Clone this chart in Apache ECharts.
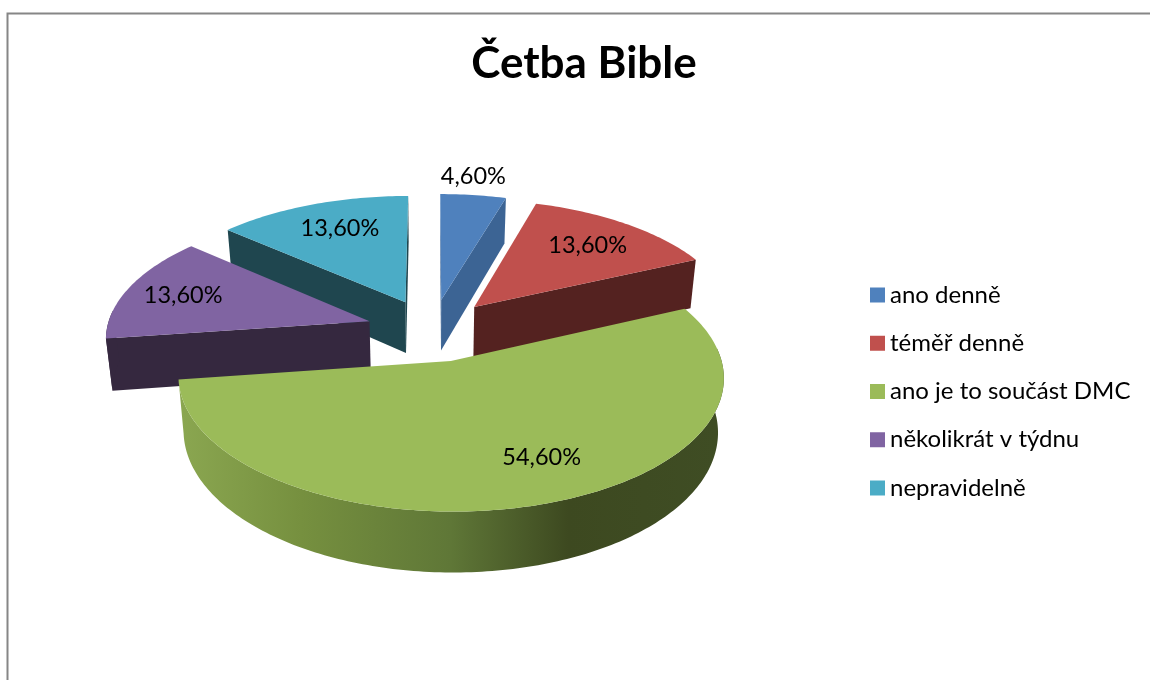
<!DOCTYPE html>
<html>
<head>
<meta charset="utf-8">
<title>Četba Bible</title>
<style>
  html, body { margin: 0; padding: 0; background: #fff; }
  #chart { width: 1150px; height: 680px; }
</style>
<script src="https://cdn.jsdelivr.net/npm/echarts@6/dist/echarts.min.js"></script>
</head>
<body>
<div id="chart"></div>
<script>
  const categories = ['ano denně', 'téměř denně', 'ano je to součást DMC', 'několikrát v týdnu', 'nepravidelně']
  const values = [4.6, 13.6, 54.6, 13.6, 13.6]

  const topColors = ['#4f81bd', '#c0504d', '#9bbb59', '#8064a2', '#4bacc6']
  const wallColors = ['#3c6494', '#542220', '#5f7737', '#35283f', '#1f464f']
  // back slices first, the big green one last
  const drawOrder = [3, 4, 5, 2, 1]
  // how far along the slice's middle each label sits, 1 = rim
  const labelRadius = [1.2, 0.73, 0.7, 0.76, 0.74]
  const labelShift = [-0.025, 0, 0.107, -0.01, 0.023]

  // fake 3D projection of the pie plane, fitted by eye
  const originX = 432
  const originY = 330
  const radiusX = 263
  const radiusY = 125
  const perspective = 0.118
  const explode = 0.25
  const depth = 52
  const bottomScale = 0.98

  const total = values.reduce((a, b) => a + b, 0)
  const rad = (deg) => (deg * Math.PI) / 180

  const project = (px, py, lower) => {
    const f = 1 / (1 + perspective * py)
    const x = radiusX * px * f
    const y = originY - radiusY * py * f
    return lower ? [originX + x * bottomScale, y + depth * f] : [originX + x, y]
  }

  const renderSlice = (index) => (params, api) => {
    const value = api.value(0)
    const before = values.slice(0, index).reduce((a, b) => a + b, 0)
    const start = (before / total) * 360
    const end = start + (value / total) * 360
    const mid = (start + end) / 2
    const apexX = explode * Math.sin(rad(mid))
    const apexY = explode * Math.cos(rad(mid))
    const viewY = -1 / perspective
    const rim = (deg) => [apexX + Math.sin(rad(deg)), apexY + Math.cos(rad(deg))]

    const arc = []
    for (let deg = start; deg < end; deg += 1) arc.push(deg)
    arc.push(end)

    const wallStyle = { fill: wallColors[index] }
    if (index === 2) {
      wallStyle.fill = new echarts.graphic.LinearGradient(183, 0, 718, 0, [
        { offset: 0, color: '#8aa650' },
        { offset: 0.22, color: '#76903f' },
        { offset: 0.5, color: '#5f7737' },
        { offset: 0.72, color: '#3d4920' },
        { offset: 1, color: '#3f4d24' }
      ], true)
    }

    const children = []
    const addWall = (from, to) => {
      children.push({
        type: 'polygon',
        silent: true,
        shape: {
          points: [project(from[0], from[1]), project(to[0], to[1]), project(to[0], to[1], true), project(from[0], from[1], true)]
        },
        style: { fill: wallColors[index] }
      })
    }

    // cut faces, only the ones turned to the viewer
    const startFacing = -Math.cos(rad(start)) * -apexX + Math.sin(rad(start)) * (viewY - apexY)
    const endFacing = Math.cos(rad(end)) * -apexX - Math.sin(rad(end)) * (viewY - apexY)
    if (startFacing > 0) addWall([apexX, apexY], rim(start))
    if (endFacing > 0) addWall([apexX, apexY], rim(end))

    // outer rim wall
    const front = arc.filter((deg) => Math.cos(rad(deg)) < 0.1)
    if (front.length > 1) {
      const upper = front.map((deg) => project(rim(deg)[0], rim(deg)[1]))
      const lower = front.map((deg) => project(rim(deg)[0], rim(deg)[1], true)).reverse()
      children.push({
        type: 'polygon',
        silent: true,
        shape: { points: upper.concat(lower) },
        style: wallStyle
      })
    }

    const face = [project(apexX, apexY)].concat(arc.map((deg) => project(rim(deg)[0], rim(deg)[1])))
    children.push({
      type: 'polygon',
      silent: true,
      shape: { points: face },
      style: { fill: topColors[index] }
    })

    const labelPos = project(
      apexX + labelRadius[index] * Math.sin(rad(mid)) + labelShift[index],
      apexY + labelRadius[index] * Math.cos(rad(mid))
    )
    children.push({
      type: 'text',
      silent: true,
      x: labelPos[0],
      y: labelPos[1],
      style: {
        text: value.toFixed(2).replace('.', ',') + '%',
        fill: '#000',
        font: '23.5px Lato',
        align: 'center',
        verticalAlign: 'middle'
      }
    })

    return { type: 'group', children }
  }

  const chart = echarts.init(document.getElementById('chart'))

  chart.setOption({
    animation: false,
    backgroundColor: '#fff',
    title: {
      text: 'Četba Bible',
      left: 579,
      top: 37,
      textAlign: 'center',
      textStyle: { fontFamily: 'Lato', fontSize: 44, fontWeight: 'bold', color: '#000' }
    },
    legend: {
      data: categories,
      orient: 'vertical',
      left: 865,
      top: 278,
      icon: 'rect',
      itemWidth: 15,
      itemHeight: 15,
      itemGap: 24.25,
      selectedMode: false,
      textStyle: { fontFamily: 'Lato', fontSize: 24, color: '#000', lineHeight: 22 }
    },
    graphic: [
      {
        type: 'polyline',
        silent: true,
        shape: { points: [[7.5, 680], [7.5, 13.5], [1150, 13.5]] },
        style: { fill: null, stroke: '#868686', lineWidth: 2 }
      }
    ],
    series: categories.map((name, i) => ({
      name,
      type: 'custom',
      coordinateSystem: 'none',
      z: drawOrder[i],
      itemStyle: { color: topColors[i] },
      renderItem: renderSlice(i),
      data: [[values[i]]]
    }))
  })
</script>
</body>
</html>
